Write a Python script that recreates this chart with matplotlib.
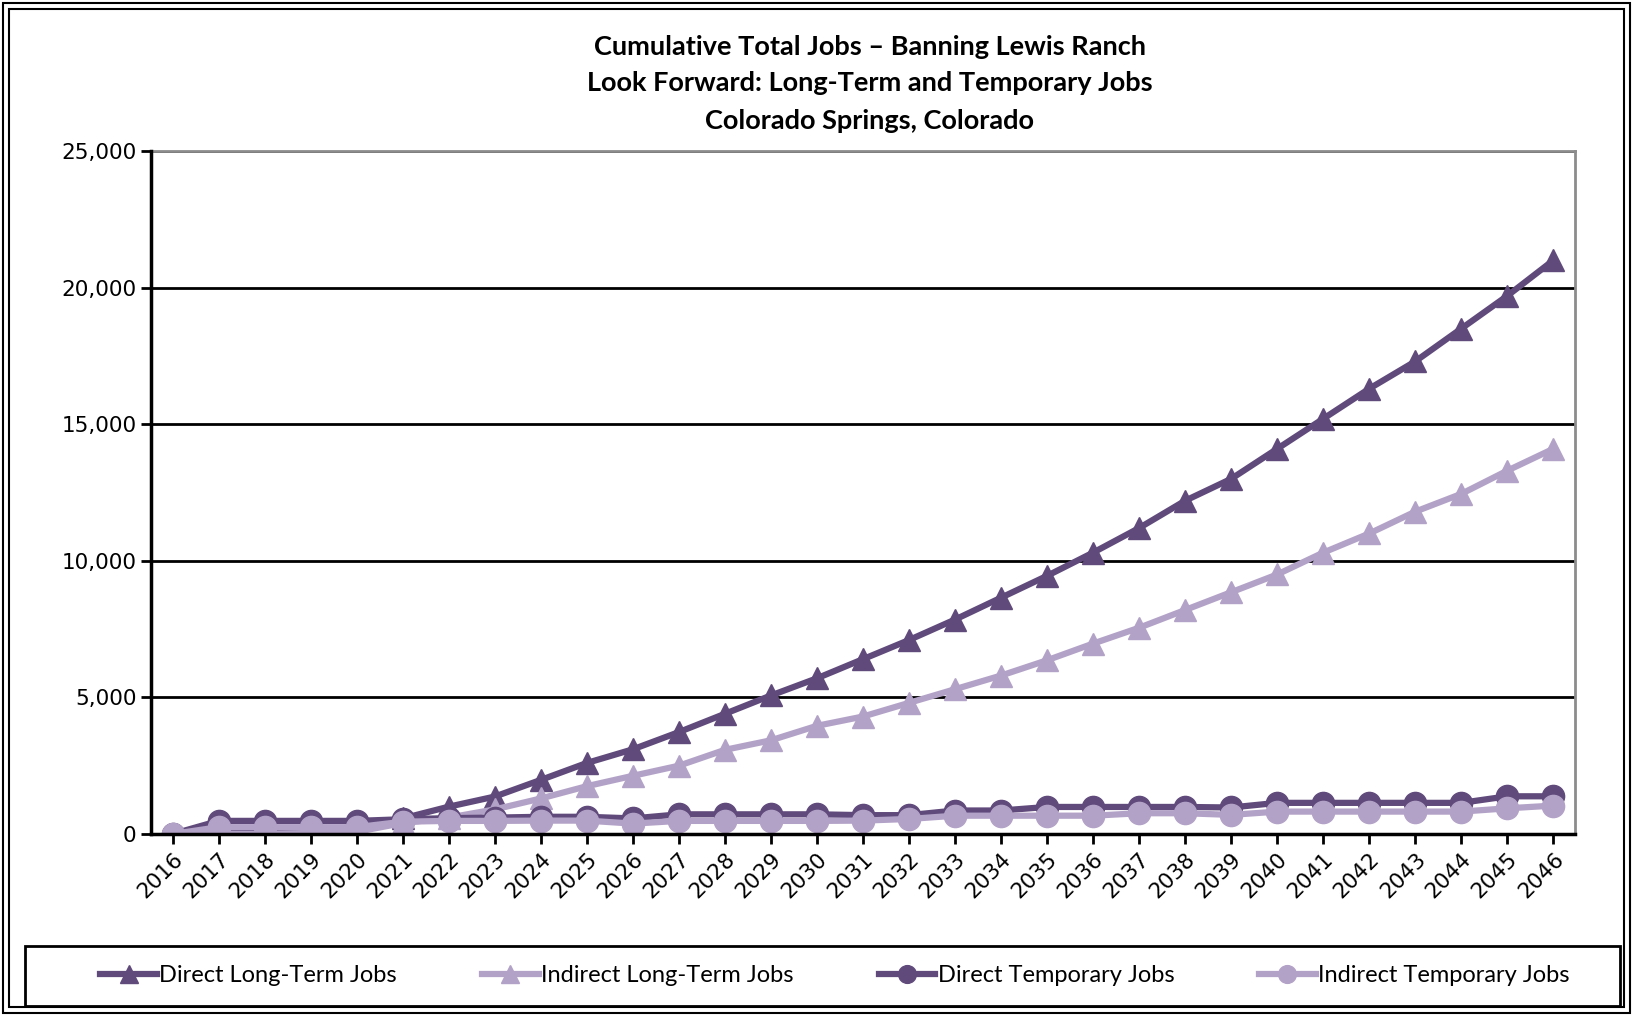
import matplotlib
matplotlib.use("Agg")
import matplotlib.pyplot as plt
from matplotlib.patches import Rectangle
from matplotlib.ticker import FuncFormatter

# values
years = [str(y) for y in range(2016, 2047)]
direct_lt = [0, 100, 130, 170, 220, 570, 1000, 1370, 1980, 2600, 3100, 3730, 4400, 5070, 5700, 6400,
             7100, 7850, 8650, 9450, 10300, 11200, 12200, 13000, 14100, 15200, 16300, 17300, 18500,
             19700, 21000]
indirect_lt = [0, 0, 0, 40, 80, 400, 600, 900, 1300, 1750, 2130, 2500, 3080, 3430, 3960, 4300,
               4800, 5300, 5800, 6360, 6970, 7550, 8200, 8850, 9500, 10300, 11000, 11800, 12450,
               13300, 14100]
direct_temp = [0, 480, 480, 480, 480, 540, 580, 600, 630, 630, 570, 720, 720, 720, 720, 690,
               690, 860, 860, 990, 990, 990, 990, 970, 1140, 1140, 1140, 1140, 1140, 1380, 1380]
indirect_temp = [0, 250, 250, 250, 250, 450, 480, 480, 490, 490, 380, 480, 480, 480, 480, 490,
                 550, 670, 670, 670, 670, 760, 760, 700, 820, 820, 820, 820, 820, 940, 1040]

dark = "#604a7b"
light = "#b3a2c7"

W, H = 1633, 1016
fig = plt.figure(figsize=(W / 100, H / 100), dpi=100)
ax = fig.add_axes([151 / W, 1 - 834 / H, (1575 - 151) / W, (834 - 151) / H])

x = range(len(years))
ax.plot(x, direct_lt, color=dark, lw=4.5, marker="^", ms=16, label="Direct Long-Term Jobs", zorder=3)
ax.plot(x, indirect_lt, color=light, lw=4.5, marker="^", ms=16, label="Indirect Long-Term Jobs", zorder=3)
ax.plot(x, direct_temp, color=dark, lw=4.5, marker="o", ms=16, label="Direct Temporary Jobs", zorder=3)
ax.plot(x, indirect_temp, color=light, lw=4.5, marker="o", ms=16, label="Indirect Temporary Jobs", zorder=3)

ax.set_xlim(-0.47, 30.47)
ax.set_ylim(0, 25000)
ax.set_yticks(range(0, 25001, 5000))
ax.yaxis.set_major_formatter(FuncFormatter(lambda v, p: f"{int(v):,}"))
ax.set_xticks(list(x))
ax.set_xticklabels(years, rotation=45, ha="right", rotation_mode="anchor")
ax.tick_params(axis="both", labelsize=15.5, width=2, length=7, color="black")
ax.tick_params(axis="x", pad=4)
ax.grid(axis="y", color="black", lw=2, zorder=1)
ax.set_axisbelow(True)

for side in ["left", "bottom"]:
    ax.spines[side].set_color("black")
    ax.spines[side].set_linewidth(2.5)
    ax.spines[side].set_zorder(4)
for side in ["top", "right"]:
    ax.spines[side].set_color("#8c8c8c")
    ax.spines[side].set_linewidth(2)

title_lines = ["Cumulative Total Jobs – Banning Lewis Ranch",
               "Look Forward: Long-Term and Temporary Jobs",
               "Colorado Springs, Colorado"]
for line, ypix in zip(title_lines, [47, 83, 121]):
    fig.text(870 / W, 1 - ypix / H, line, ha="center", va="center",
             fontsize=19.5, fontweight="bold", family="Lato")

# legend box spans the full width, entries centred inside it
fig.patches.append(Rectangle((25 / W, 1 - 1006 / H), 1595 / W, 60 / H, transform=fig.transFigure,
                             fill=False, edgecolor="black", lw=2))
leg = fig.legend(loc="center", ncol=4, bbox_to_anchor=(835 / W, 1 - 976 / H),
                 frameon=False, prop={"family": "Lato", "size": 17}, handlelength=2.4,
                 handletextpad=0.1, columnspacing=3.6, markerscale=0.8)

# double outer border
fig.patches.append(Rectangle((3 / W, 3 / H), 1 - 6 / W, 1 - 6 / H, transform=fig.transFigure,
                             fill=False, edgecolor="black", lw=1.5))
fig.patches.append(Rectangle((9 / W, 9 / H), 1 - 18 / W, 1 - 18 / H, transform=fig.transFigure,
                             fill=False, edgecolor="black", lw=1.5))

fig.savefig("out.png", dpi=100)
